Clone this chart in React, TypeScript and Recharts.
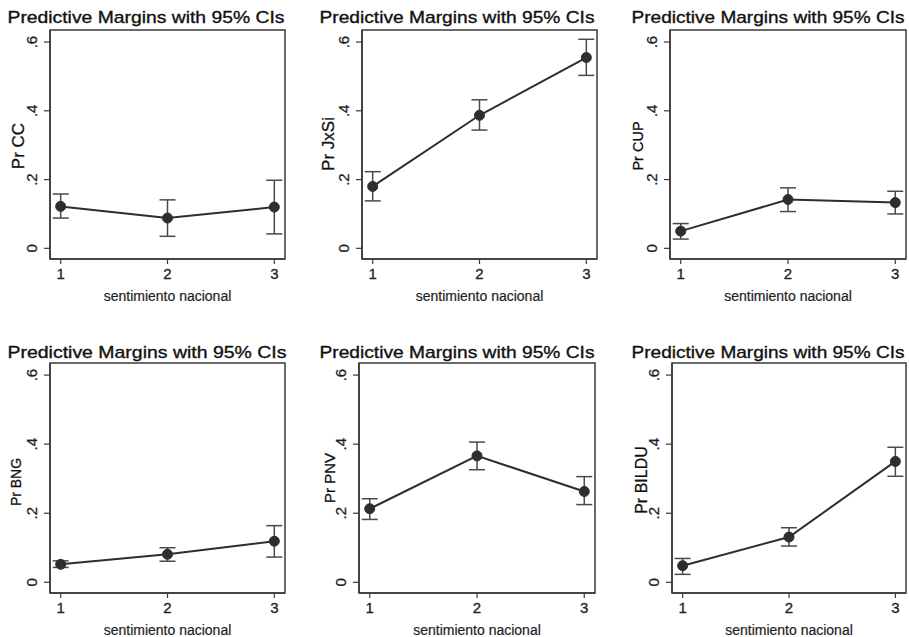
import { ErrorBar, Line, LineChart, ReferenceArea, XAxis, YAxis } from 'recharts';

const categories = [1, 2, 3];

const ccEst = [0.122, 0.088, 0.12];
const ccLo = [0.088, 0.035, 0.042];
const ccHi = [0.158, 0.141, 0.198];

const jxsiEst = [0.18, 0.387, 0.555];
const jxsiLo = [0.138, 0.344, 0.503];
const jxsiHi = [0.223, 0.432, 0.608];

const cupEst = [0.05, 0.142, 0.133];
const cupLo = [0.027, 0.107, 0.1];
const cupHi = [0.072, 0.176, 0.166];

const bngEst = [0.052, 0.081, 0.119];
const bngLo = [0.043, 0.061, 0.073];
const bngHi = [0.062, 0.1, 0.164];

const pnvEst = [0.213, 0.366, 0.263];
const pnvLo = [0.182, 0.326, 0.225];
const pnvHi = [0.242, 0.406, 0.306];

const bilduEst = [0.048, 0.131, 0.35];
const bilduLo = [0.023, 0.105, 0.307];
const bilduHi = [0.069, 0.158, 0.391];

const yTicks = [0, 0.2, 0.4, 0.6];
const xTicks = [1, 2, 3];

const TITLE = 'Predictive Margins with 95% CIs';
const X_LABEL = 'sentimiento nacional';
const FONT = '"Liberation Sans", Arial, Helvetica, sans-serif';
const INK = '#1e1e1e';

const X_DOMAIN: [number, number] = [0.9, 3.1];
const Y_DOMAIN: [number, number] = [-0.031, 0.635];

type Panel = {
  ylabel: string;
  est: number[];
  lo: number[];
  hi: number[];
  // plot box in page pixels
  boxLeft: number;
  boxTop: number;
  boxW: number;
  boxH: number;
  titleX: number;
  titleY: number;
  titleW: number;
  ylabX: number;
  ylabY: number;
  ylabSize: number;
};

const panels: Panel[] = [
  { ylabel: 'Pr CC', est: ccEst, lo: ccLo, hi: ccHi, boxLeft: 50, boxTop: 30, boxW: 235, boxH: 229, titleX: 146, titleY: 17, titleW: 277, ylabX: 18, ylabY: 146, ylabSize: 17 },
  { ylabel: 'Pr JxSi', est: jxsiEst, lo: jxsiLo, hi: jxsiHi, boxLeft: 362, boxTop: 30, boxW: 235, boxH: 229, titleX: 457, titleY: 17, titleW: 275, ylabX: 328, ylabY: 144, ylabSize: 17 },
  { ylabel: 'Pr CUP', est: cupEst, lo: cupLo, hi: cupHi, boxLeft: 670, boxTop: 30, boxW: 236, boxH: 229, titleX: 768, titleY: 17, titleW: 273, ylabX: 638, ylabY: 146, ylabSize: 14.5 },
  { ylabel: 'Pr BNG', est: bngEst, lo: bngLo, hi: bngHi, boxLeft: 50, boxTop: 363, boxW: 235, boxH: 230, titleX: 147, titleY: 352, titleW: 279, ylabX: 16, ylabY: 482, ylabSize: 14 },
  { ylabel: 'Pr PNV', est: pnvEst, lo: pnvLo, hi: pnvHi, boxLeft: 359, boxTop: 363, boxW: 236, boxH: 230, titleX: 457, titleY: 352, titleW: 275, ylabX: 329, ylabY: 478, ylabSize: 15 },
  { ylabel: 'Pr BILDU', est: bilduEst, lo: bilduLo, hi: bilduHi, boxLeft: 672, boxTop: 363, boxW: 234, boxH: 230, titleX: 768, titleY: 352, titleW: 273, ylabX: 641, ylabY: 480, ylabSize: 16 },
];

function fmtY(v: number) {
  if (v === 0) return '0';
  return String(v).replace(/^0\./, '.');
}

function YTick(props: any) {
  const { x, y, payload } = props;
  return (
    <text
      x={x}
      y={y}
      transform={`rotate(-90 ${x} ${y})`}
      textAnchor="middle"
      dominantBaseline="central"
      fontSize={15}
      fontFamily={FONT}
      fill={INK}
      stroke={INK}
      strokeWidth={0.3}
    >
      {fmtY(payload.value)}
    </text>
  );
}

function MarginPanel({ p }: { p: Panel }) {
  const data = categories.map((c, i) => ({
    x: c,
    y: p.est[i],
    err: [p.est[i] - p.lo[i], p.hi[i] - p.est[i]],
  }));
  const left = p.boxLeft - 50;
  const top = p.boxTop - 30;
  const width = 50 + p.boxW + 2;
  const height = 30 + p.boxH + 48;

  return (
    <div style={{ position: 'absolute', left, top, width, height }}>
      <LineChart
        width={width}
        height={height}
        data={data}
        margin={{ top: 30, right: 2, bottom: 0, left: 0 }}
      >
        <XAxis
          dataKey="x"
          type="number"
          domain={X_DOMAIN}
          ticks={xTicks}
          allowDataOverflow
          height={48}
          tickSize={5}
          tickMargin={4}
          tick={{ fill: INK, stroke: INK, strokeWidth: 0.3, fontSize: 15, fontFamily: FONT }}
          axisLine={{ stroke: '#3a3a3a', strokeWidth: 1.5 }}
          tickLine={{ stroke: '#3a3a3a', strokeWidth: 1.2 }}
          label={{
            value: X_LABEL,
            position: 'insideBottom',
            offset: 6,
            fill: INK,
            stroke: INK,
            strokeWidth: 0.2,
            fontSize: 14,
            fontFamily: FONT,
          }}
        />
        <YAxis
          type="number"
          domain={Y_DOMAIN}
          ticks={yTicks}
          allowDataOverflow
          width={50}
          tickSize={6}
          tickMargin={12}
          tick={YTick}
          axisLine={{ stroke: '#3a3a3a', strokeWidth: 1.5 }}
          tickLine={{ stroke: '#3a3a3a', strokeWidth: 1.2 }}
        />
        <ReferenceArea
          x1={X_DOMAIN[0]}
          x2={X_DOMAIN[1]}
          y1={Y_DOMAIN[0]}
          y2={Y_DOMAIN[1]}
          fill="none"
          stroke="#3a3a3a"
          strokeWidth={1.5}
          ifOverflow="visible"
        />
        <Line
          dataKey="y"
          type="linear"
          stroke="#2e2e2e"
          strokeWidth={2}
          dot={{ r: 5, fill: '#2e2e2e', stroke: '#2e2e2e', strokeWidth: 1 }}
          activeDot={false}
          isAnimationActive={false}
        >
          <ErrorBar
            dataKey="err"
            direction="y"
            width={8}
            stroke="#4a4a4a"
            strokeWidth={1.5}
            isAnimationActive={false}
          />
        </Line>
      </LineChart>
    </div>
  );
}

export default function App() {
  return (
    <div
      style={{
        position: 'absolute',
        left: 0,
        top: 0,
        width: 909,
        height: 637,
        background: '#fff',
        overflow: 'hidden',
        fontFamily: FONT,
      }}
    >
      {panels.map((p) => (
        <MarginPanel key={p.ylabel} p={p} />
      ))}
      <svg
        width={909}
        height={637}
        style={{ position: 'absolute', left: 0, top: 0, pointerEvents: 'none' }}
      >
        {panels.map((p) => (
          <g key={p.ylabel}>
            <text
              x={p.titleX}
              y={p.titleY}
              textAnchor="middle"
              dominantBaseline="central"
              fontSize={17}
              fontFamily={FONT}
              fill="#111"
              stroke="#111"
              strokeWidth={0.35}
              textLength={p.titleW}
              lengthAdjust="spacingAndGlyphs"
            >
              {TITLE}
            </text>
            <text
              x={p.ylabX}
              y={p.ylabY}
              transform={`rotate(-90 ${p.ylabX} ${p.ylabY})`}
              textAnchor="middle"
              dominantBaseline="central"
              fontSize={p.ylabSize}
              fontFamily={FONT}
              fill="#111"
              stroke="#111"
              strokeWidth={0.3}
            >
              {p.ylabel}
            </text>
          </g>
        ))}
      </svg>
    </div>
  );
}
